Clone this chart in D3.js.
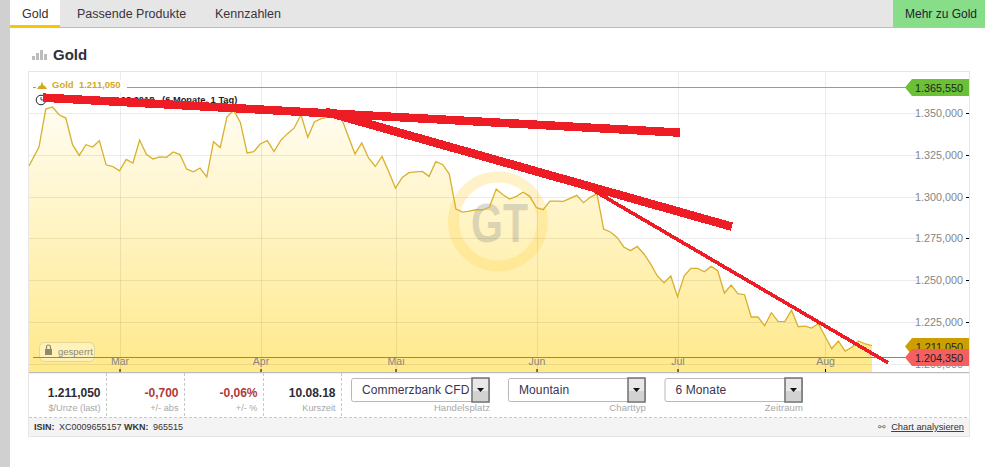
<!DOCTYPE html>
<html><head><meta charset="utf-8">
<script src="https://cdn.jsdelivr.net/npm/d3@7"></script>
<style>
html,body{margin:0;padding:0;background:#fff;overflow:hidden}
svg{display:block;font-family:"Liberation Sans",Arial,sans-serif}
</style></head><body><svg id="c" width="985" height="467"></svg>
<script>
// ---- data (USD/oz) ----
const goldPrices=[1318.3,1329.5,1352.2,1353.4,1348.8,1346.8,1330.9,1324.5,1330.9,1329.5,1333.3,1318.9,1317.9,1315.3,1322.1,1320,1333.7,1325.2,1322.4,1323.6,1323.4,1326.6,1325,1316.4,1314.7,1317,1311.7,1332.7,1329.2,1347.4,1351.4,1344.2,1326,1326.8,1331.5,1333.3,1326.8,1333.5,1337.5,1340.9,1348.8,1335.3,1344.6,1346.4,1347.4,1347.8,1346.8,1336,1325.4,1332,1323,1317.9,1323.9,1314.7,1305,1311.4,1314.2,1314.7,1315,1312,1320.8,1319.1,1313.5,1292.5,1290.7,1291.3,1292.1,1292.1,1293.7,1304.4,1301,1298.5,1300.1,1302.5,1300.1,1293.3,1292.1,1297.3,1297.3,1297.1,1298.9,1300.7,1296.3,1299.5,1301.7,1280.6,1278.8,1275.6,1269.9,1267.7,1270.2,1265.7,1259.8,1252.6,1248.5,1252.6,1240.2,1252.7,1257.1,1257.1,1255.1,1258.3,1255.7,1242.4,1247.2,1242,1241.4,1228.1,1228.1,1222.9,1230.7,1225.5,1225.3,1232.1,1222.3,1222.7,1221.5,1224.1,1216.6,1209.3,1213.8,1207.8,1210,1213.8,1212,1211.05];
const monthLabels=["Mär","Apr","Mai","Jun","Jul","Aug"];
const monthIndex=[13,34,54,75,96,118];
const yTicks=[1350,1325,1300,1275,1250,1225,1200];
const highValue=1365.55, lowValue=1204.35, lastValue=1211.05;
// hand-drawn trend strokes, as [trading-day index, price]
const trendThick1=[[1.6,1359],[96.4,1338.1]];
const trendThick2=[[43.6,1350.6],[104.1,1282]];
const trendThin=[[83.3,1304.1],[127.4,1200.8]];
const statValues=["1.211,050","-0,700","-0,06%","10.08.18"];
const statLabels=["$/Unze (last)","+/- abs","+/- %","Kurszeit"];
const selectValues=["Commerzbank CFD","Mountain","6 Monate"];
const selectLabels=["Handelsplatz","Charttyp","Zeitraum"];

// ---- layout ----
const P={l:29,r:969,t:72,b:372};
const svg=d3.select("#c");
const fmt=d3.formatLocale({decimal:",",thousands:".",grouping:[3],currency:["","$"]}).format(",.3f");
const x=d3.scaleLinear().domain([0,1,...monthIndex,125]).range([29,39,119.5,260.5,395.5,536.5,677.5,825,872]);
const y=d3.scaleLinear().domain([1350,1200]).range([112.7,364.1]);
const yr=y.copy().interpolate(d3.interpolateRound);
function T(px,py,s,o={}){return svg.append("text").attr("x",px).attr("y",py).text(s)
  .attr("font-size",o.size||11).attr("fill",o.fill||"#333").attr("font-weight",o.weight||"normal")
  .attr("text-anchor",o.anchor||"start").attr("letter-spacing",o.ls||null);}
function R(a,b,w,h,f,o={}){return svg.append("rect").attr("x",a).attr("y",b).attr("width",w).attr("height",h)
  .attr("fill",f).attr("stroke",o.stroke||"none").attr("rx",o.rx||0);}

// page chrome
R(0,0,10,467,"#d0d0d0");
R(10,0,975,27,"#e6e6e6");
R(10,27,975,1,"#bdbdbd");
R(10,0,50,26,"#fff");
R(10,25,50,2,"#f7c600");
T(22,18,"Gold",{size:12.5,fill:"#333"});
T(77,18,"Passende Produkte",{size:12.5,fill:"#3a3340"});
T(215,18,"Kennzahlen",{size:12.5,fill:"#3a3340"});
R(893,0,92,27,"#88de88");
T(905,18,"Mehr zu Gold",{size:12,fill:"#222238"});
[[32,4],[36,7],[40,10],[44,6]].forEach(d=>R(d[0],60-d[1],3,d[1],"#bdbdbd"));
T(53,60,"Gold",{size:15,weight:"bold",fill:"#2f2f3a"});

// card
R(28.5,71.5,941,365,"#fff",{stroke:"#e6e6e6"});

// gradient
const grad=svg.append("defs").append("linearGradient").attr("id","g").attr("gradientUnits","userSpaceOnUse")
  .attr("x1",0).attr("x2",0).attr("y1",105).attr("y2",P.b);
grad.append("stop").attr("offset",0).attr("stop-color","#fffdf2");
grad.append("stop").attr("offset",1).attr("stop-color","#ffe98a");

// area and line
const area=d3.area().x((d,i)=>x(i)).y0(P.b).y1(d=>y(d));
const line=d3.line().x((d,i)=>x(i)).y(d=>y(d));
svg.append("path").datum(goldPrices).attr("d",area).attr("fill","url(#g)");

// watermark
svg.append("circle").attr("cx",498).attr("cy",221.5).attr("r",44.5).attr("fill","none")
  .attr("stroke","#ffd95a").attr("stroke-opacity",.33).attr("stroke-width",11);
T(471,242,"GT",{size:56,weight:"bold",fill:"#8c8c8c"}).attr("opacity",.3)
  .attr("textLength",57).attr("lengthAdjust","spacingAndGlyphs");

// grid
svg.append("g").selectAll("line").data(monthIndex).join("line")
  .attr("x1",d=>Math.round(x(d))+.5).attr("x2",d=>Math.round(x(d))+.5).attr("y1",P.t).attr("y2",P.b)
  .attr("stroke","#000").attr("stroke-opacity",.075);
svg.append("g").selectAll("line").data(yTicks).join("line")
  .attr("x1",P.l).attr("x2",918).attr("y1",d=>yr(d)+.5).attr("y2",d=>yr(d)+.5)
  .attr("stroke","#000").attr("stroke-opacity",.075);

svg.append("path").datum(goldPrices).attr("d",line).attr("fill","none").attr("stroke","#d8b02c").attr("stroke-width",1.3);

// axes
const ax=svg.append("g").attr("transform",`translate(966,0)`)
  .call(d3.axisRight(yr).tickValues(yTicks).tickSize(3).tickFormat(fmt));
ax.select(".domain").remove();
ax.selectAll("line").attr("stroke","#000");
ax.selectAll("text").attr("x",-3).attr("text-anchor","end").attr("fill","#858585").attr("font-size",10.8).attr("font-family",null);
const ab=svg.append("g").attr("transform",`translate(0,${P.b-3})`)
  .call(d3.axisBottom(x).tickValues(monthIndex).tickSize(3).tickFormat((d,i)=>monthLabels[i]));
ab.select(".domain").remove();
ab.selectAll("line").attr("stroke","#000");
ab.selectAll("text").attr("y",-4).attr("dy",0).attr("fill","#858585").attr("font-size",10.5).attr("font-family",null);

// lock badge
R(39.5,342.5,55,19,"#fff",{rx:5,stroke:"#e4d79a"}).attr("fill-opacity",.35);
R(45,349,7,6,"#8f8a68");
svg.append("path").attr("d","M46.5 349v-2a2 2 0 0 1 4 0v2").attr("fill","none").attr("stroke","#8f8a68").attr("stroke-width",1.2);
T(58,355,"gesperrt",{size:9.5,fill:"#8a8a80"});

// high/low reference lines
[[highValue,"#79bb4b"],[lowValue,"#e2634f"]].forEach(([v,c])=>{
  svg.append("line").attr("x1",33).attr("x2",906).attr("y1",yr(v)+.5).attr("y2",yr(v)+.5).attr("stroke",c);
});
// legend
R(36,80,91,12,"#fff");
svg.append("path").attr("d","M37 89l2-3 1.5-.5 1.5-4 1.5 4 1.5.5 2 3z").attr("fill","#d3a91f");
T(52,88,"Gold\u00a0\u00a01.211,050",{size:9.5,weight:"bold",fill:"#d3a91f"});
svg.append("circle").attr("cx",41).attr("cy",100).attr("r",4.8).attr("fill","#fff").attr("stroke","#222").attr("stroke-width",1);
svg.append("path").attr("d","M41 97v3h2.5").attr("fill","none").attr("stroke","#222").attr("stroke-width",.8);
T(53,103,"09.02.2018 - 10.08.2018\u00a0\u00a0\u00a0(6 Monate, 1 Tag)",{size:9.3,fill:"#222",weight:"bold"});

// price tags
function tag(v,fill){
  const c=yr(v)+.5;
  const pts=[[905,c],[912,c-8.5],[969,c-8.5],[969,c+8.5],[912,c+8.5]];
  svg.append("polygon").attr("points",pts.join(" ")).attr("fill",fill);
  T(963,c+4,fmt(v),{size:10.8,anchor:"end",fill:"#1f1f1f"});
}
tag(highValue,"#6cc035");
tag(lastValue,"#cc9f00");
tag(lowValue,"#f55f5f");

// bottom panel
R(29,372,940,1.5,"#bdbdbd");
R(29,373.5,940,44,"#fff");
R(29,418,940,18,"#f4f4f4");
R(28.5,71.5,941,365,"none",{stroke:"#e6e6e6"});
const dash=(a,b,c,d)=>svg.append("line").attr("x1",a).attr("y1",b).attr("x2",c).attr("y2",d)
  .attr("stroke","#c8c8c8").attr("stroke-dasharray","3,2");
[106.5,184.5,263.5,341.5].forEach(v=>dash(v,373,v,417));
dash(29,417.5,969,417.5);
const statX=[100.5,178.5,257.5,335.5];
const statFill=["#2c2c36","#b03a3a","#b03a3a","#2c2c36"];
statValues.forEach((s,i)=>{T(statX[i],397,s,{size:12,weight:"bold",anchor:"end",fill:statFill[i]});
  T(statX[i],411,statLabels[i],{size:9.2,anchor:"end",fill:"#a8a8a8"});});
const selX=[[351,489],[508,645],[664.5,802]];
selectValues.forEach((s,i)=>{
  const [a,b]=selX[i];
  R(a+.5,378.5,b-a,23,"#fff",{stroke:"#b8b8b8",rx:2});
  T(a+11,394,s,{size:12,fill:"#3a3350",ls:.1});
  R(b-17,378,17,24,"#e8e8e8",{stroke:"#6e6e6e"}).attr("stroke-width",1.5);
  R(b-16,391,15,10,"#d2d2d2");
  svg.append("path").attr("d",`M${b-12} 388h7l-3.5 4z`).attr("fill","#111");
  T(b+1,411,selectLabels[i],{size:9.5,anchor:"end",fill:"#a8a8a8",ls:.1});
});
T(34,430,"ISIN:",{size:9,weight:"bold",fill:"#333"});
T(59,430,"XC0009655157",{size:9,fill:"#333"});
T(124,430,"WKN:",{size:9,weight:"bold",fill:"#333"});
T(153,430,"965515",{size:9,fill:"#333"});
T(964,430,"Chart analysieren",{size:9.3,anchor:"end",fill:"#333"}).attr("text-decoration","underline");
T(878,430,"\u26af",{size:9,fill:"#666"});

// trend strokes
const tl=d3.line().x(d=>x(d[0])).y(d=>y(d[1]));
[[trendThick1,8.5],[trendThick2,8.5],[trendThin,3.6]].forEach(([d,w])=>{
  svg.append("path").datum(d).attr("d",tl).attr("fill","none").attr("stroke","#ee1c25").attr("stroke-width",w)
    .attr("shape-rendering","crispEdges");
});
</script></body></html>
